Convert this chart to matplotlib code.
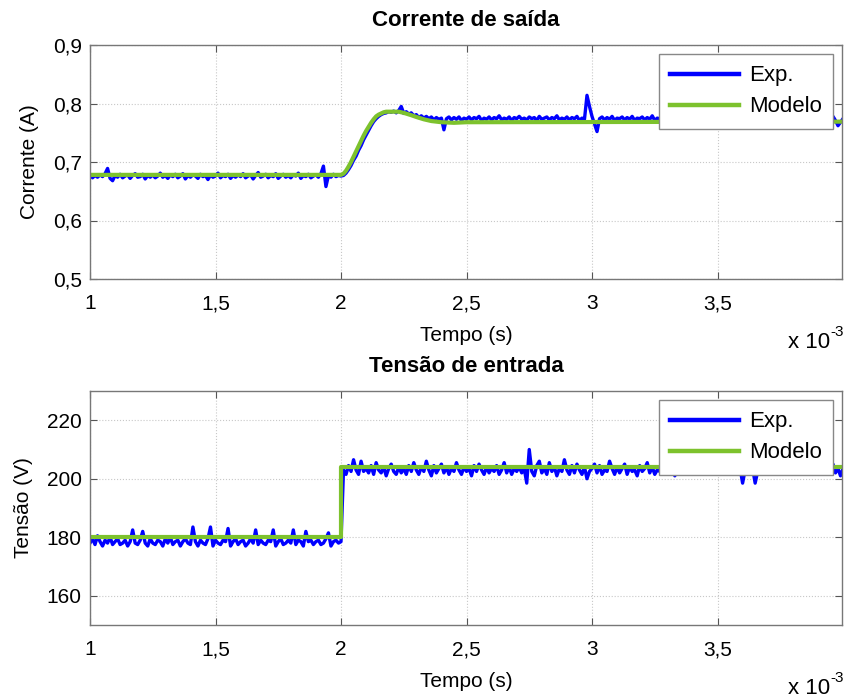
import numpy as np
import matplotlib
matplotlib.use("Agg")
import matplotlib.pyplot as plt

plt.rcParams['font.family'] = ['Liberation Sans', 'DejaVu Sans']

# ---------------- data ----------------
sample_step_ms = 0.01          # sampling interval of the experimental records (ms)
t_start_ms = 1.0

# Experimental output current (mA), one value per sample from 1.00 ms to 4.00 ms
current_exp_mA = (
    [679, 673, 677, 674, 678, 675, 680, 689, 672, 668,
     677, 674, 679, 673, 676, 678, 672, 677, 680, 674,
     675, 679, 671, 677, 674, 678, 673, 676, 681, 674,
     677, 672, 678, 675, 679, 673, 676, 680, 671, 677,
     674, 678, 676, 672, 679, 675, 677, 670, 678, 674,
     676, 681, 673, 677, 675, 679, 672, 677, 674, 678,
     675, 680, 673, 676, 678, 671, 677, 682, 674, 676,
     679, 673, 677, 675, 680, 672, 676, 679, 674, 677,
     673, 678, 676, 681, 672, 677, 675, 679, 673, 676,
     678, 674, 680, 693, 658, 677, 674, 679, 675, 677,
     676,
     677, 681, 687, 694, 703, 710, 720, 728, 738, 746,
     754, 762, 769, 774, 778, 781, 783, 784, 786, 785,
     787, 784, 788, 795, 783, 786, 782, 784, 779, 781,
     776, 779, 775, 778, 774, 777, 772, 776, 773, 775,
     755, 774, 777, 772, 776, 773, 777, 771, 775, 773,
     777, 772, 776, 774, 778, 771, 775, 773, 777, 772,
     776, 774, 779, 772, 775, 773, 777, 771, 776, 774,
     778, 773, 775, 772, 777, 774, 776, 771, 778, 773,
     775, 777, 772, 776, 774, 779, 772, 775, 773, 777,
     772, 776, 774, 778, 771, 775, 773, 814, 795, 778,
     765, 752, 774, 777, 772, 776, 773, 778, 771, 775,
     774, 777, 772, 776, 773, 778, 771, 775, 774, 777,
     772, 776, 773, 779, 771, 775, 774, 777, 772, 776,
     773, 778, 771, 775, 774, 777, 772, 776, 773, 778,
     771, 775, 774, 777, 772, 776, 773, 778, 771, 775,
     774, 777, 772, 776, 773, 778, 771, 775, 774, 777,
     772, 776, 773, 779, 771, 775, 774, 777, 772, 776,
     773, 778, 771, 775, 774, 777, 772, 776, 773, 778,
     771, 775, 774, 777, 772, 776, 773, 778, 771, 775,
     774, 777, 772, 776, 773, 778, 771, 762, 768, 774]
)

# Model output current: breakpoints (ms, A)
current_model_t_ms = [1.00, 2.00, 2.01, 2.02, 2.03, 2.04, 2.05, 2.06, 2.07, 2.08,
                      2.09, 2.10, 2.11, 2.12, 2.13, 2.14, 2.15, 2.16, 2.17, 2.18,
                      2.23, 2.25, 2.28, 2.30, 2.33, 2.36, 2.40, 2.45, 2.50, 4.00]
current_model_A = [0.678, 0.678, 0.680, 0.685, 0.692, 0.700, 0.709, 0.718, 0.727, 0.736,
                   0.745, 0.753, 0.760, 0.767, 0.773, 0.778, 0.781, 0.783, 0.785, 0.786,
                   0.786, 0.784, 0.780, 0.777, 0.773, 0.770, 0.768, 0.767, 0.768, 0.769]

# Experimental input voltage (V), one value per sample from 1.00 ms to 4.00 ms
voltage_exp_V = (
    [178.0, 179.5, 177.5, 180.5, 178.5, 177.0, 179.0, 178.0, 180.0, 177.5,
     178.5, 179.5, 177.5, 178.0, 179.0, 177.0, 178.5, 182.5, 178.0, 177.5,
     179.0, 182.0, 178.0, 177.0, 179.5, 178.0, 177.5, 179.0, 178.5, 177.0,
     179.5, 178.0, 180.0, 177.5, 178.5, 179.0, 177.0, 178.5, 179.5, 178.0,
     177.5, 183.5, 178.5, 177.0, 179.0, 178.0, 177.5, 179.5, 183.5, 177.0,
     179.0, 178.0, 177.5, 179.0, 178.5, 183.0, 177.0, 178.5, 179.5, 177.5,
     178.5, 179.0, 177.0, 178.0, 179.5, 178.0, 182.5, 177.5, 179.0, 178.0,
     177.5, 179.0, 178.5, 182.5, 177.0, 178.5, 179.5, 177.5, 178.0, 179.0,
     178.0, 182.5, 177.5, 179.0, 178.5, 177.0, 182.0, 178.5, 179.0, 177.5,
     178.5, 179.0, 177.5, 178.0, 179.5, 181.5, 177.0, 178.5, 179.0, 178.0,
     178.5,
     203.0, 201.5, 204.5, 202.5, 206.5, 203.0, 201.5, 206.0, 202.5, 203.5,
     202.0, 204.5, 201.5, 205.5, 203.0, 202.0, 204.0, 201.0, 203.5, 205.0,
     202.5, 201.5, 204.0, 202.0, 203.5, 201.5, 204.5, 202.5, 205.5, 203.0,
     201.5, 204.0, 202.5, 206.0, 203.0, 201.0, 204.5, 202.0, 203.5, 205.0,
     202.0, 204.0, 201.5, 203.5, 202.5, 205.5, 203.0, 201.5, 204.0, 202.5,
     203.5, 201.0, 204.5, 202.5, 205.0, 203.0, 201.5, 204.0, 202.0, 203.5,
     202.5, 204.5, 201.5, 203.0, 205.5, 202.0, 204.0, 201.5, 203.5, 202.5,
     204.0, 202.0, 203.5, 198.5, 210.0, 202.5, 201.0, 204.5, 206.0, 202.0,
     203.5, 201.5, 205.5, 202.5, 204.0, 201.0, 203.5, 202.5, 206.5, 203.0,
     201.5, 204.5, 202.0, 205.0, 203.0, 201.5, 204.0, 200.0, 202.5, 203.5,
     205.0, 202.0, 204.5, 201.5, 203.0, 202.5, 206.0, 203.5, 201.5, 204.0,
     202.0, 203.5, 205.0, 201.5, 204.0, 202.5, 203.0, 201.0, 204.5, 202.5,
     203.5, 205.5, 202.0, 204.0, 201.5, 203.0, 202.5, 204.5, 201.5, 203.5,
     202.5, 204.0, 201.0, 203.5, 205.0, 202.0, 204.5, 202.5, 203.0, 201.5,
     204.0, 202.5, 203.5, 201.5, 204.5, 202.0, 203.5, 205.0, 202.5, 204.0,
     201.5, 203.5, 202.5, 204.0, 201.5, 203.0, 204.5, 202.0, 203.5, 198.5,
     203.0, 204.0, 201.5, 203.5, 198.5, 202.5, 204.0, 202.0, 203.5, 201.5,
     204.5, 202.5, 203.0, 201.5, 204.0, 202.0, 203.5, 205.0, 202.5, 203.5,
     201.5, 204.0, 202.5, 203.0, 204.5, 202.0, 203.5, 201.5, 204.0, 202.5,
     203.5, 201.5, 204.0, 202.5, 203.0, 205.0, 202.0, 203.5, 201.0, 203.5]
)

# Model input voltage: breakpoints (ms, V)
voltage_model_t_ms = [1.00, 2.00, 2.00, 4.00]
voltage_model_V = [180.0, 180.0, 204.0, 204.0]

x_ticks_ms = [1.0, 1.5, 2.0, 2.5, 3.0, 3.5]
x_tick_labels = ['1', '1,5', '2', '2,5', '3', '3,5']
current_ticks = [0.5, 0.6, 0.7, 0.8, 0.9]
current_tick_labels = ['0,5', '0,6', '0,7', '0,8', '0,9']
voltage_ticks = [160, 180, 200, 220]
voltage_tick_labels = ['160', '180', '200', '220']

titles = ['Corrente de saída', 'Tensão de entrada']
y_labels = ['Corrente (A)', 'Tensão (V)']
x_label = 'Tempo (s)'
legend_labels = ['Exp.', 'Modelo']
exponent_base = 'x 10'
exponent_power = '-3'

# ---------------- plot ----------------
BLUE = '#0000FF'
GREEN = '#7DC22D'
W, H = 845, 698
fig = plt.figure(figsize=(W / 100, H / 100), dpi=100)

axes_px = [(45, 279), (391, 625)]   # (top, bottom) in pixels
ax1 = fig.add_axes([90 / W, 1 - 279 / H, (842 - 90) / W, (279 - 45) / H])
ax2 = fig.add_axes([90 / W, 1 - 625 / H, (842 - 90) / W, (625 - 391) / H])

n_i = len(current_exp_mA)
t_i = (t_start_ms + sample_step_ms * np.arange(n_i)) * 1e-3
n_v = len(voltage_exp_V)
t_v = (t_start_ms + sample_step_ms * np.arange(n_v)) * 1e-3

ax1.plot(t_i, np.array(current_exp_mA) / 1000.0, color=BLUE, lw=2.4, label=legend_labels[0])
ax1.plot(np.array(current_model_t_ms) * 1e-3, current_model_A, color=GREEN, lw=3.0,
         label=legend_labels[1])
ax2.plot(t_v, voltage_exp_V, color=BLUE, lw=2.4, label=legend_labels[0])
ax2.plot(np.array(voltage_model_t_ms) * 1e-3, voltage_model_V, color=GREEN, lw=3.0,
         label=legend_labels[1])

setups = [
    (ax1, (0.5, 0.9), current_ticks, current_tick_labels),
    (ax2, (150, 230), voltage_ticks, voltage_tick_labels),
]
for k, (ax, ylim, yt, ytl) in enumerate(setups):
    ax.set_xlim(1e-3, 3.996e-3)
    ax.set_ylim(*ylim)
    ax.set_xticks([v * 1e-3 for v in x_ticks_ms])
    ax.set_xticklabels(x_tick_labels)
    ax.set_yticks(yt)
    ax.set_yticklabels(ytl)
    ax.tick_params(direction='in', length=5, width=0.8, colors='#555555',
                   labelcolor='black', labelsize=15, top=True, right=True)
    ax.tick_params(axis='x', pad=11)
    ax.tick_params(axis='y', pad=6)
    ax.grid(True, linestyle=':', color='#c8c8c8', lw=0.8)
    ax.set_axisbelow(True)
    for s in ax.spines.values():
        s.set_color('#777777')
        s.set_linewidth(1.0)
    ax.set_title(titles[k], fontsize=16, fontweight='bold', pad=13.5)
    ax.set_xlabel(x_label, fontsize=15, labelpad=9)
    ax.set_ylabel(y_labels[k], fontsize=15, labelpad=10)
    leg = ax.legend(loc='upper right', fontsize=16, frameon=True, fancybox=False,
                    framealpha=1.0, handlelength=3.1, borderaxespad=0.42,
                    labelspacing=0.45, handletextpad=0.45, borderpad=0.5)
    leg.get_frame().set_edgecolor('#888888')
    leg.get_frame().set_linewidth(1.0)
    for line in leg.get_lines():
        line.set_linewidth(3.2)

    bottom_px = axes_px[k][1]
    y_txt = 1 - (bottom_px + 64) / H
    fig.text(830 / W, y_txt, exponent_base, ha='right', va='center', fontsize=16)
    fig.text(830.5 / W, y_txt + 11 / H, exponent_power, ha='left', va='center', fontsize=11)

fig.savefig('out.png', dpi=100)
